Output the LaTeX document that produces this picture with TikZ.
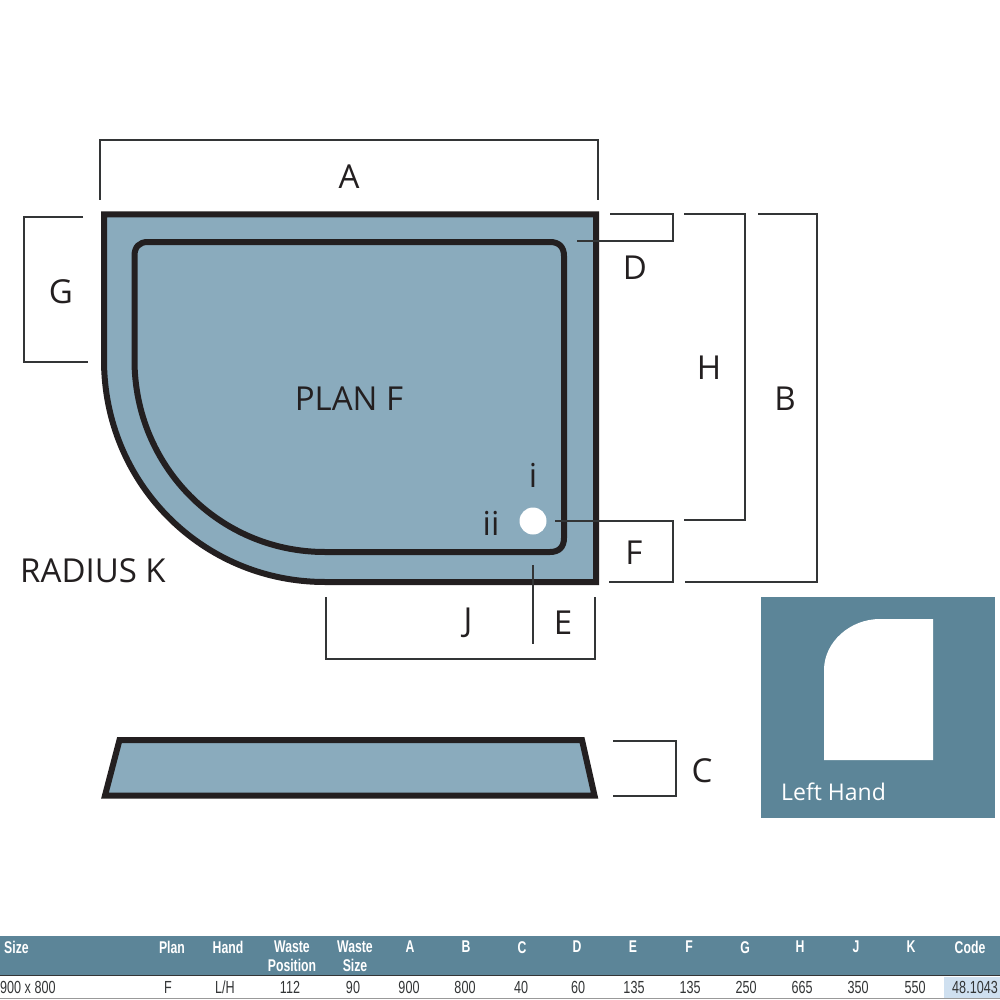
\documentclass[tikz,border=0pt]{standalone}
\usepackage{fontspec}
\setmainfont{Open Sans}
\newfontfamily\tablefont[FakeStretch=0.72]{Liberation Sans}
\definecolor{tray}{HTML}{8AABBD}
\definecolor{slate}{HTML}{5C8598}
\definecolor{ink}{HTML}{231F20}
\definecolor{dimline}{HTML}{333536}
\definecolor{hilite}{HTML}{CFE0F0}
\tikzset{
  x=1pt,y=-1pt,
  trayline/.style={draw=ink,line width=6pt,line join=miter},
  dimen/.style={draw=dimline,line width=1.2pt},
  lab/.style={font=\fontsize{33}{33}\selectfont,text=ink,inner sep=0pt,anchor=center},
  head/.style={font=\tablefont\bfseries\fontsize{17}{19}\selectfont,text=white,inner sep=0pt,align=center,anchor=north},
  cell/.style={font=\tablefont\fontsize{17.5}{17.5}\selectfont,text=dimline,inner sep=0pt,anchor=center},
}
\begin{document}
\begin{tikzpicture}
\useasboundingbox (0,0) rectangle (1000,1000);
\fill[white] (0,0) rectangle (1000,1000);
% plan
\path[trayline,fill=tray] (104,214.5) -- (596,214.5) -- (596,582) -- (325,582)
  .. controls (202,582) and (104,483) .. (104,360) -- cycle;
\path[trayline] (148,242) -- (550,242) .. controls (559,242) and (564,247) .. (564,256)
  -- (564,538) .. controls (564,547) and (559,552) .. (550,552) -- (325,552)
  .. controls (219,552) and (134.5,466) .. (134.5,360) -- (134.5,256)
  .. controls (134.5,247) and (139,242) .. (148,242) -- cycle;
\fill[white] (533,521) circle[radius=13.5];
% dimensions
\draw[dimen] (100,200) -- (100,140) -- (598,140) -- (598,200);
\draw[dimen] (83,217) -- (24,217) -- (24,362) -- (88,362);
\draw[dimen] (610,214) -- (673,214) -- (673,241) -- (577,241);
\draw[dimen] (684,214) -- (745,214) -- (745,520) -- (684,520);
\draw[dimen] (758,214) -- (817,214) -- (817,582) -- (685,582);
\draw[dimen] (555,521) -- (673,521) -- (673,582) -- (609,582);
\draw[dimen] (533,565) -- (533,644);
\draw[dimen] (326,597) -- (326,659) -- (595,659) -- (595,597);
\draw[dimen] (613,741) -- (676,741) -- (676,796) -- (613,796);
% side view
\path[trayline,fill=tray] (119.5,740) -- (582,740) -- (594.5,795.5) -- (105,795.5) -- cycle;
% labels
\node[lab] (a) at (349,177) {A};
\node[lab] (b) at (785,399) {B};
\node[lab] (c) at (702,771) {C};
\node[lab] (d) at (635,268) {D};
\node[lab] (e) at (563,623) {E};
\node[lab] (f) at (634,553) {F};
\node[lab] (g) at (61,292) {G};
\node[lab] (h) at (709,368) {H};
\node[lab] (j) at (468,623) {J};
\node[lab] (plan) at (349,399) {PLAN F};
\node[lab] (radius) at (93,571) {RADIUS K};
\node[lab] (i) at (533,475) {i};
\node[lab] (ii) at (491,523) {ii};
% left hand key
\fill[slate] (761,597) rectangle (995,818);
\fill[white] (824,760) -- (824,670) .. controls (824,642) and (850,619) .. (880,619) -- (933,619) -- (933,760) -- cycle;
\node[font=\fontsize{23}{23}\selectfont,text=white,inner sep=0pt,anchor=base west] (lh) at (781,800) {Left Hand};
% table
\fill[slate] (0,936) rectangle (1000,975);
\draw[draw=dimline,line width=1.2pt] (0,975.5) -- (1000,975.5);
\draw[draw=black!40,line width=1.2pt] (0,998.5) -- (1000,998.5);
\fill[hilite] (944,976.5) rectangle (1000,997.5);
\node[head,anchor=north west] (h1) at (4,941) {Size};
\node[head] (h2) at (172,941) {Plan};
\node[head] (h3) at (228,941) {Hand};
\node[head] (h4) at (292,941) {Waste\\Position};
\node[head] (h5) at (355,941) {Waste\\Size};
\node[head] (h6) at (410,941) {A};
\node[head] (h7) at (466,941) {B};
\node[head] (h8) at (522,941) {C};
\node[head] (h9) at (577,941) {D};
\node[head] (h10) at (633,941) {E};
\node[head] (h11) at (689,941) {F};
\node[head] (h12) at (745,941) {G};
\node[head] (h13) at (800,941) {H};
\node[head] (h14) at (856,941) {J};
\node[head] (h15) at (911,941) {K};
\node[head] (h16) at (970,941) {Code};
\node[cell,anchor=west] (c1) at (0,987) {900 x 800};
\node[cell] (c2) at (168,987) {F};
\node[cell] (c3) at (225,987) {L/H};
\node[cell] (c4) at (290,987) {112};
\node[cell] (c5) at (353,987) {90};
\node[cell] (c6) at (409,987) {900};
\node[cell] (c7) at (465,987) {800};
\node[cell] (c8) at (521,987) {40};
\node[cell] (c9) at (578,987) {60};
\node[cell] (c10) at (634,987) {135};
\node[cell] (c11) at (690,987) {135};
\node[cell] (c12) at (746,987) {250};
\node[cell] (c13) at (802,987) {665};
\node[cell] (c14) at (858,987) {350};
\node[cell] (c15) at (915,987) {550};
\node[cell] (c16) at (975,987) {48.1043};
\end{tikzpicture}
\end{document}
